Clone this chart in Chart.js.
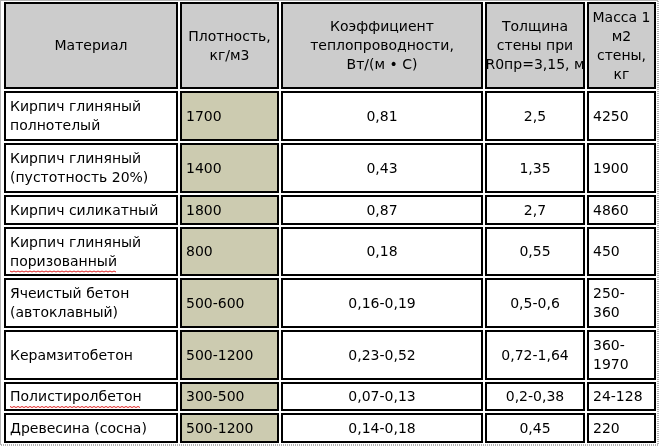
<!DOCTYPE html>
<html><head><meta charset="utf-8">
<script src="https://cdn.jsdelivr.net/npm/chart.js@4"></script>
<style>html,body{margin:0;padding:0;background:#fff}#wrap{width:659px;height:446px}</style>
</head><body><div id="wrap"><canvas id="tbl"></canvas></div>
<script>
// table data
const headers = ['Материал', 'Плотность,\nкг/м3', 'Коэффициент\nтеплопроводности,\nВт/(м • С)', 'Толщина\nстены при\nR0пр=3,15, м', 'Масса 1\nм2\nстены,\nкг'];
const materials = ['Кирпич глиняный\nполнотелый', 'Кирпич глиняный\n(пустотность 20%)', 'Кирпич силикатный', 'Кирпич глиняный\nпоризованный', 'Ячеистый бетон\n(автоклавный)', 'Керамзитобетон', 'Полистиролбетон', 'Древесина (сосна)'];
const density = ['1700', '1400', '1800', '800', '500-600', '500-1200', '300-500', '500-1200'];
const conductivity = ['0,81', '0,43', '0,87', '0,18', '0,16-0,19', '0,23-0,52', '0,07-0,13', '0,14-0,18'];
const thickness = ['2,5', '1,35', '2,7', '0,55', '0,5-0,6', '0,72-1,64', '0,2-0,38', '0,45'];
const mass = ['4250', '1900', '4860', '450', '250-\n360', '360-\n1970', '24-128', '220'];

// layout (page units)
const colEdges = [[4, 178], [180, 279], [281, 483], [485, 585], [587, 656]];
const rowEdges = [[2, 89], [91, 141], [143, 193], [195, 225], [227, 276], [278, 328], [330, 380], [382, 411], [413, 443]];
const colAlign = ['left', 'left', 'center', 'center', 'left'];
const FONT = '14px "DejaVu Sans", sans-serif';

const tablePlugin = {
    id: 'tableCells',
    afterDraw(chart) {
        const ctx = chart.ctx, xs = chart.scales.x, ys = chart.scales.y;
        const rows = [headers].concat(materials.map((m, i) => [m, density[i], conductivity[i], thickness[i], mass[i]]));
        // dotted outer frame
        ctx.save();
        ctx.strokeStyle = '#666';
        ctx.setLineDash([1, 1]);
        ctx.lineWidth = 1;
        ctx.strokeRect(xs.getPixelForValue(0.5), ys.getPixelForValue(0.5), xs.getPixelForValue(658) - xs.getPixelForValue(0.5), ys.getPixelForValue(445) - ys.getPixelForValue(0.5));
        ctx.restore();
        rows.forEach((row, r) => {
            row.forEach((txt, c) => {
                const x0 = xs.getPixelForValue(colEdges[c][0]), x1 = xs.getPixelForValue(colEdges[c][1]);
                const y0 = ys.getPixelForValue(rowEdges[r][0]), y1 = ys.getPixelForValue(rowEdges[r][1]);
                ctx.fillStyle = r === 0 ? '#cccccc' : (c === 1 ? '#cccbb0' : '#ffffff');
                ctx.fillRect(x0, y0, x1 - x0, y1 - y0);
                ctx.strokeStyle = '#000';
                ctx.setLineDash([]);
                ctx.lineWidth = 2;
                ctx.strokeRect(x0 + 1, y0 + 1, x1 - x0 - 2, y1 - y0 - 2);
                const lines = txt.split('\n');
                const lh = 19;
                ctx.font = FONT;
                ctx.fillStyle = '#000';
                ctx.textBaseline = 'middle';
                const align = r === 0 ? 'center' : colAlign[c];
                ctx.textAlign = align;
                const tx = align === 'center' ? (x0 + x1) / 2 : x0 + 6;
                const cy = (y0 + y1) / 2 + 1;
                lines.forEach((ln, k) => {
                    const ty = cy + (k - (lines.length - 1) / 2) * lh;
                    ctx.fillText(ln, tx, ty);
                    // spellcheck squiggle
                    if (ln === 'Полистиролбетон' || ln === 'поризованный') {
                        const w = ctx.measureText(ln).width;
                        ctx.beginPath();
                        ctx.strokeStyle = '#e02020';
                        ctx.lineWidth = 1;
                        for (let px = 0; px <= w; px += 2) {
                            const yy = ty + 9 + ((px / 2) % 2 ? 1 : 0);
                            px === 0 ? ctx.moveTo(tx + px, yy) : ctx.lineTo(tx + px, yy);
                        }
                        ctx.stroke();
                    }
                });
            });
        });
    }
};

const cellPoints = [];
rowEdges.forEach(ry => colEdges.forEach(cx => cellPoints.push({ x: (cx[0] + cx[1]) / 2, y: (ry[0] + ry[1]) / 2 })));

new Chart(document.getElementById('tbl'), {
    type: 'scatter',
    data: { datasets: [{ data: cellPoints, pointRadius: 0 }] },
    options: {
        responsive: true,
        maintainAspectRatio: false,
        animation: false,
        layout: { padding: 0 },
        plugins: { legend: { display: false }, tooltip: { enabled: false } },
        scales: {
            x: { type: 'linear', min: 0, max: 659, display: false },
            y: { type: 'linear', min: 0, max: 446, reverse: true, display: false }
        }
    },
    plugins: [tablePlugin]
});
</script>
</body></html>
